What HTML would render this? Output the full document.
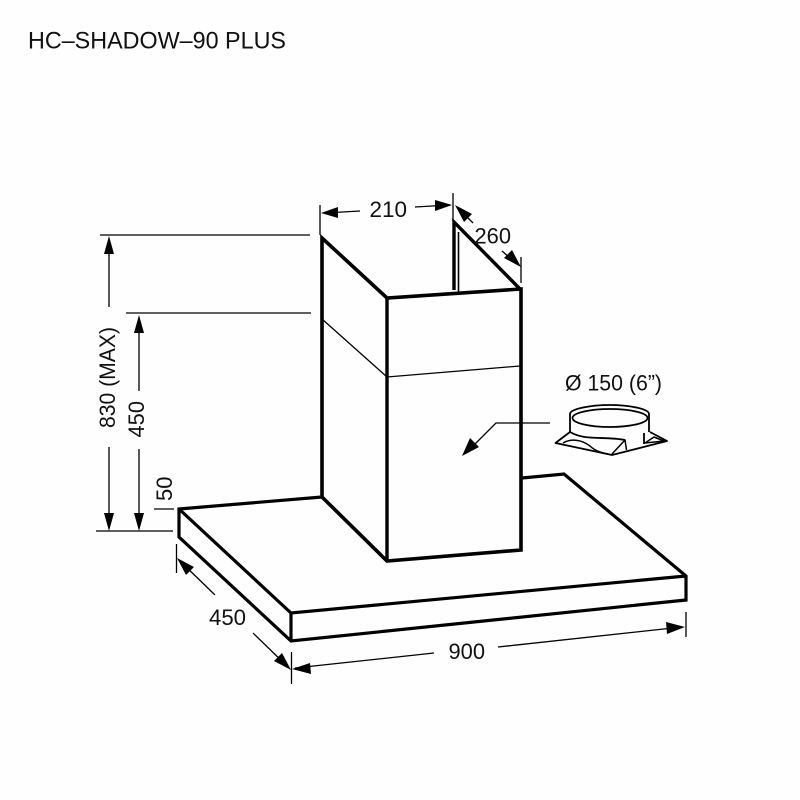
<!DOCTYPE html>
<html>
<head>
<meta charset="utf-8">
<style>
html,body{margin:0;padding:0;background:#fff}
svg{display:block}
text{font-family:"Liberation Sans",Arial,sans-serif;fill:#111}
</style>
</head>
<body>
<svg width="800" height="800" viewBox="0 0 800 800" xmlns="http://www.w3.org/2000/svg">
<rect width="800" height="800" fill="#fefefe"/>
<text x="28" y="48.500" font-size="24" textLength="258" lengthAdjust="spacingAndGlyphs">HC–SHADOW–90 PLUS</text>

<!-- hood body -->
<g fill="none" stroke="#000" stroke-width="3.2" stroke-linejoin="miter">
<path d="M322 497 L179 509 L179 537 L291 641 L686 600 L686 576 L564 474 L522 478"/>
<path d="M179 509 L291 613 L686 576"/>
<path d="M291 613 L291 641"/>
<path d="M322 497 L322 238 L387 298 L521 289 L521 550 L387 561 L322 497" stroke-width="3.600"/>
<path d="M387 298 L387 561" stroke-width="3.400"/>
<path d="M454 290 L454 222 L521 290" stroke-width="3.400"/>
</g>
<g fill="none" stroke="#000" stroke-width="1.300">
<path d="M322 319 L387 377 L520 366"/>
<path d="M458.500 232 L458.500 292" stroke-width="1.600"/>
</g>

<!-- dimension lines -->
<g fill="none" stroke="#000" stroke-width="1.300">
<path d="M100 235 H310 M126 313 H311 M96 531 H173 M154 509 H174"/>
<path d="M109 240 V307 M109 447 V528 M139 318 V391 M139 449 V528"/>
<path d="M320 205 V235 M453 193 V222 M521 257 V283 M176.500 544 V573 M291.500 652 V684 M686 612 V637"/>
<path d="M325 213 L360 211 M415 207 L450 205"/>
<path d="M458 208 L473 223 M502 251 L518 265"/>
<path d="M180 561 L215 595 M253 633 L288 667"/>
<path d="M295 668 L434 653 M498 647 L682 627"/>
<path d="M550 423 H496 L468 451"/>
</g>
<!-- arrowheads -->
<g fill="#000">
<path d="M109 236 L104 254 L114 254Z"/>
<path d="M139 315 L134 333 L144 333Z"/>
<path d="M109 531 L104 513 L114 513Z"/>
<path d="M139 531 L134 513 L144 513Z"/>
<path d="M321 213 L338 207 L338 218Z"/>
<path d="M452 205 L435 200 L435 211Z"/>
<path d="M455 205 L472 214 L464 222Z"/>
<path d="M521 267 L504 258 L512 250Z"/>
<path d="M177 558 L194 567 L186 575Z"/>
<path d="M291 670 L274 661 L282 653Z"/>
<path d="M292 669 L310 663 L311 674Z"/>
<path d="M685 627 L666 622 L667 634Z"/>
<path d="M462 456 L470 438 L479 447Z"/>
</g>

<!-- labels -->
<g font-size="22">
<text x="369.500" y="217" textLength="37.500" lengthAdjust="spacingAndGlyphs">210</text>
<text x="474.500" y="243.500" textLength="36.500" lengthAdjust="spacingAndGlyphs">260</text>
<text x="448.500" y="659" textLength="36.500" lengthAdjust="spacingAndGlyphs">900</text>
<text x="209" y="625" textLength="37" lengthAdjust="spacingAndGlyphs">450</text>
<text x="565" y="390.500" textLength="97" lengthAdjust="spacingAndGlyphs">Ø 150 (6”)</text>
<text transform="translate(115,428) rotate(-90)" textLength="101" lengthAdjust="spacingAndGlyphs">830 (MAX)</text>
<text transform="translate(144,437.500) rotate(-90)" textLength="36.500" lengthAdjust="spacingAndGlyphs">450</text>
<text transform="translate(172,501) rotate(-90)" textLength="24.500" lengthAdjust="spacingAndGlyphs">50</text>
</g>

<!-- duct collar -->
<g fill="none" stroke="#000" stroke-linejoin="round" stroke-width="1.800">
<path d="M570 432 V414 C570 409 590 405 610 405 C630 405 649 409 649 414 V432"/>
<ellipse cx="610" cy="418" rx="37.500" ry="9"/>
<path d="M570 432 C585 441 605 436 625 440"/>
<path d="M570 432 L555.500 443 L612 455 L667 441 L650 432"/>
<path d="M644 433 V444"/>
<path d="M563 443 C572 438 582 440 590 446 C595 451 602 453 610 454.500" stroke-width="1.500"/>
<path d="M612 454 L625 440 L626.500 450" stroke-width="1.500"/>
<path d="M645 443 L654 437 L664 441 Z" stroke-width="1.500"/>
</g>
</svg>
</body>
</html>
